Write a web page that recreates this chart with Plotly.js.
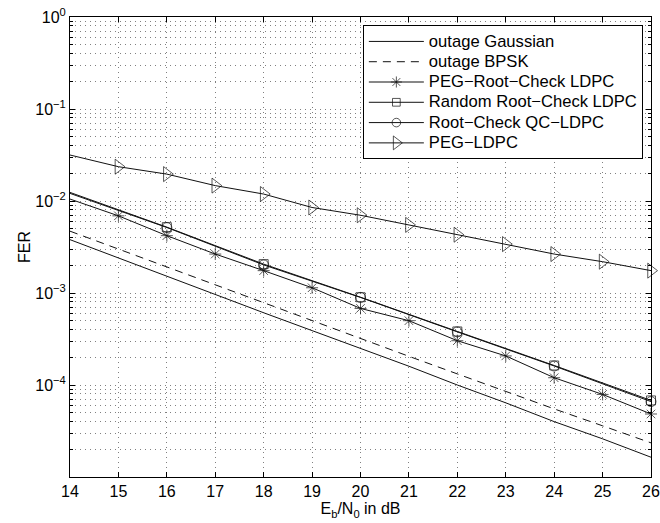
<!DOCTYPE html>
<html>
<head>
<meta charset="utf-8">
<script src="https://cdn.plot.ly/plotly-3.0.1.min.js"></script>
<style>html,body{margin:0;padding:0;background:#fff;}#chart{width:660px;height:523px;}</style>
</head>
<body>
<div id="chart"></div>
<script>
// Eb/N0 in dB
const snrAll = [14, 15, 16, 17, 18, 19, 20, 21, 22, 23, 24, 25, 26];
const snrEven = [14, 16, 18, 20, 22, 24, 26];

const outageGaussian = [3.8e-3, 2.4e-3, 1.5e-3, 9.6e-4, 6.1e-4, 3.9e-4, 2.5e-4, 1.6e-4, 1.0e-4, 6.4e-5, 4.0e-5, 2.6e-5, 1.64e-5];
const outageBPSK = [4.7e-3, 3.0e-3, 1.9e-3, 1.22e-3, 7.8e-4, 5.0e-4, 3.2e-4, 2.05e-4, 1.32e-4, 8.5e-5, 5.5e-5, 3.6e-5, 2.35e-5];
const pegRootCheck = [1.05e-2, 6.9e-3, 4.2e-3, 2.65e-3, 1.75e-3, 1.14e-3, 6.8e-4, 5.0e-4, 3.03e-4, 2.07e-4, 1.2e-4, 7.9e-5, 4.84e-5];
const randomRootCheck = [1.24e-2, 5.2e-3, 2.06e-3, 9.0e-4, 3.82e-4, 1.63e-4, 6.8e-5];
const rootCheckQC = [1.21e-2, 5.15e-3, 2.02e-3, 8.95e-4, 3.78e-4, 1.61e-4, 6.6e-5];
const pegLDPC = [3.16e-2, 2.36e-2, 1.96e-2, 1.47e-2, 1.19e-2, 8.5e-3, 7.0e-3, 5.5e-3, 4.3e-3, 3.4e-3, 2.65e-3, 2.19e-3, 1.75e-3];

const seriesNames = ['outage Gaussian', 'outage BPSK', 'PEG\u2212Root\u2212Check LDPC', 'Random Root\u2212Check LDPC', 'Root\u2212Check QC\u2212LDPC', 'PEG\u2212LDPC'];
const yTickVals = [1, 1e-1, 1e-2, 1e-3, 1e-4];
const yTickText = ['10<sup>0</sup>', '10<sup>\u22121</sup>', '10<sup>\u22122</sup>', '10<sup>\u22123</sup>', '10<sup>\u22124</sup>'];

function sizes(n, s) { const a = []; for (let i = 0; i < n; i++) a.push(i === 0 ? 0 : s); return a; }
function big(t) { return '<span style="font-size:16.6px">' + t + '</span>'; }

const lineStyle = {color: '#111', width: 1};
const traces = [
  {x: snrAll, y: outageGaussian, name: big(seriesNames[0]), mode: 'lines', line: lineStyle},
  {x: snrAll, y: outageBPSK, name: big(seriesNames[1]), mode: 'lines', line: {color: '#111', width: 1, dash: '8px,6px'}},
  {x: snrAll, y: pegRootCheck, name: big(seriesNames[2]), mode: 'lines+markers', line: lineStyle,
   marker: {symbol: 'asterisk-open', size: sizes(snrAll.length, 10), color: '#111', line: {color: '#111', width: 1}}, cliponaxis: false},
  {x: snrEven, y: randomRootCheck, name: big(seriesNames[3]), mode: 'lines+markers', line: lineStyle,
   marker: {symbol: 'square-open', size: sizes(snrEven.length, 9), color: '#111', line: {color: '#111', width: 1}}, cliponaxis: false},
  {x: snrEven, y: rootCheckQC, name: big(seriesNames[4]), mode: 'lines+markers', line: lineStyle,
   marker: {symbol: 'circle-open', size: sizes(snrEven.length, 10), color: '#111', line: {color: '#111', width: 1}}, cliponaxis: false},
  {x: snrAll, y: pegLDPC, name: big(seriesNames[5]), mode: 'lines+markers', line: lineStyle,
   marker: {symbol: 'triangle-right-open', size: sizes(snrAll.length, 13), color: '#111', line: {color: '#111', width: 1}}, cliponaxis: false}
];

const minorVals = [];
for (let k = -5; k < 0; k++) for (let m = 2; m <= 9; m++) minorVals.push(m * Math.pow(10, k));

const font = {family: 'Liberation Sans, Arial, Helvetica, sans-serif', size: 16, color: '#000'};
const legendFont = {family: 'Liberation Sans, Arial, Helvetica, sans-serif', size: 13.3, color: '#000'};
const gridCol = '#808080';
const layout = {
  width: 660, height: 523,
  margin: {l: 70, r: 9, t: 17, b: 46, pad: 0},
  paper_bgcolor: '#fff', plot_bgcolor: '#fff',
  font: font,
  showlegend: true,
  legend: {x: 0.986, xanchor: 'right', y: 0.982, yanchor: 'top', bgcolor: '#fff', bordercolor: '#000', borderwidth: 1,
           font: legendFont, itemwidth: 55, tracegroupgap: 0},
  xaxis: {
    range: [14, 26], dtick: 1, tick0: 14, ticks: 'inside', ticklen: 5, tickcolor: '#000',
    showline: true, linecolor: '#000', linewidth: 1, mirror: 'ticks', zeroline: false,
    showgrid: true, gridcolor: gridCol, griddash: '1px,4px', gridwidth: 1,
    title: {text: 'E<sub>b</sub>/N<sub>0</sub> in dB', font: font, standoff: 2},
    tickfont: font
  },
  yaxis: {
    type: 'log', range: [-5, 0], tickmode: 'array', tickvals: yTickVals, ticktext: yTickText,
    ticks: 'inside', ticklen: 5, tickcolor: '#000',
    showline: true, linecolor: '#000', linewidth: 1, mirror: 'ticks', zeroline: false,
    showgrid: true, gridcolor: gridCol, griddash: '1px,4px', gridwidth: 1,
    minor: {tickmode: 'array', tickvals: minorVals, ticks: 'inside', ticklen: 3, tickcolor: '#000',
            showgrid: true, gridcolor: gridCol, griddash: '1px,4px', gridwidth: 1},
    title: {text: 'FER', font: font, standoff: 0},
    tickfont: font
  }
};

Plotly.newPlot('chart', traces, layout, {displayModeBar: false, staticPlot: true});
</script>
</body>
</html>
